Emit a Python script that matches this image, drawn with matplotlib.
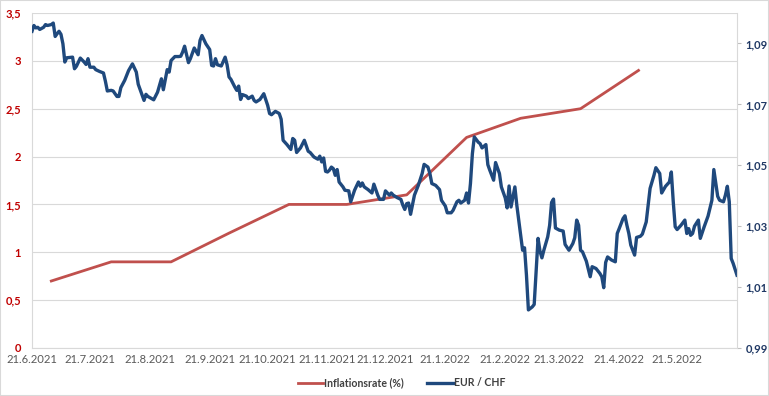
import pandas as pd
import matplotlib
matplotlib.use('Agg')
import matplotlib.pyplot as plt
from matplotlib.lines import Line2D
from matplotlib.patches import Rectangle

plt.rcParams['font.family'] = ['Lato', 'DejaVu Sans']

#%% Data
start = pd.Timestamp('2021-06-21')

# Inflationsrate (%), monthly
infl_dates = ['2021-07-01', '2021-08-01', '2021-09-01', '2021-10-01', '2021-11-01', '2021-12-01',
              '2022-01-01', '2022-02-01', '2022-03-01', '2022-04-01', '2022-05-01']
infl_values = [0.7, 0.9, 0.9, 1.2, 1.5, 1.5, 1.6, 2.2, 2.4, 2.5, 2.9]

# EUR / CHF, days after 21.6.2021
fx_days = [0, 1, 2, 3, 4, 6, 7, 8, 10, 11, 12, 13, 14, 15, 16, 17, 18, 21, 22, 23,
           25, 27, 28, 29, 30, 32, 33, 35, 37, 38, 39, 41, 42, 44, 45, 46, 48, 50, 52, 54,
           55, 57, 58, 59, 60, 63, 65, 67, 68, 70, 71, 72, 74, 76,
           77, 78, 79, 81, 82, 84, 86, 87, 88, 90, 92, 93, 94, 95, 96, 98, 100, 101, 102, 103,
           105, 106, 107, 108, 109, 111, 112, 114, 115, 116, 118, 120, 122, 123, 124, 126, 128, 129, 130, 132,
           134, 135, 136, 137, 139, 141, 143, 144, 146, 148, 149, 150, 151, 152, 153, 154,
           155, 156, 157, 158, 159, 161, 162, 164, 165, 167, 169, 170, 171, 172, 174, 176, 177, 179, 180, 182,
           183, 185, 186, 187, 189, 191, 192, 193, 194, 195, 196, 198, 200, 202, 203, 205, 206, 207, 209, 211,
           212, 214, 215, 217, 218, 220, 221, 222, 224, 225, 226, 227, 228, 229, 231,
           232, 233, 235, 236, 237, 239, 240, 242, 243, 245, 246, 247, 248, 250, 251, 252, 253, 254, 255, 256,
           257, 259, 260, 262, 263, 264, 265, 267, 268, 269, 270, 271, 273, 275, 276, 278, 280, 281, 282, 283,
           284, 285, 287, 288, 289, 290, 292, 294, 295, 296, 297, 298, 300, 302, 303, 304, 306, 307,
           308, 309, 310, 312, 313, 315, 316, 318, 319, 320, 322, 323, 325, 326, 328, 330, 331, 332, 333, 334,
           336, 338, 339, 340, 341, 342, 343, 345, 346, 348, 350, 352, 353, 355, 356, 358, 359, 360, 361, 362,
           363, 365]
fx_rates = [1.0940, 1.0959, 1.0951, 1.0953, 1.0946, 1.0953, 1.0962, 1.0959, 1.0962, 1.0967,
            1.0923, 1.0932, 1.0940, 1.0930, 1.0899, 1.0839, 1.0853, 1.0855, 1.0817, 1.0825,
            1.0852, 1.0839, 1.0831, 1.0850, 1.0822, 1.0822, 1.0814, 1.0808, 1.0803, 1.0776,
            1.0744, 1.0746, 1.0744, 1.0726, 1.0726, 1.0755, 1.0779, 1.0811, 1.0833, 1.0806,
            1.0766, 1.0730, 1.0713, 1.0733, 1.0726, 1.0715, 1.0740, 1.0784, 1.0748, 1.0814,
            1.0806, 1.0844, 1.0857, 1.0857,
            1.0858, 1.0872, 1.0891, 1.0837, 1.0850, 1.0885, 1.0863, 1.0910, 1.0926, 1.0899,
            1.0880, 1.0828, 1.0826, 1.0850, 1.0830, 1.0826, 1.0855, 1.0830, 1.0790, 1.0782,
            1.0757, 1.0746, 1.0760, 1.0716, 1.0732, 1.0727, 1.0719, 1.0727, 1.0713, 1.0708,
            1.0716, 1.0735, 1.0697, 1.0670, 1.0666, 1.0677, 1.0670, 1.0651, 1.0582, 1.0568,
            1.0552, 1.0588, 1.0582, 1.0542, 1.0557, 1.0582, 1.0546, 1.0542, 1.0527, 1.0520,
            1.0530, 1.0511, 1.0524, 1.0480, 1.0478, 1.0484,
            1.0494, 1.0489, 1.0467, 1.0486, 1.0445, 1.0429, 1.0418, 1.0416, 1.0380, 1.0418,
            1.0445, 1.0431, 1.0442, 1.0429, 1.0420, 1.0409, 1.0438, 1.0402, 1.0388, 1.0388,
            1.0416, 1.0402, 1.0409, 1.0402, 1.0394, 1.0388, 1.0369, 1.0355, 1.0374, 1.0376,
            1.0339, 1.0402, 1.0434, 1.0473, 1.0503, 1.0494, 1.0473, 1.0440, 1.0434, 1.0420,
            1.0385, 1.0366, 1.0344, 1.0344, 1.0352, 1.0380, 1.0385, 1.0376, 1.0385, 1.0409,
            1.0376, 1.0440, 1.0538, 1.0593, 1.0576,
            1.0571, 1.0557, 1.0568, 1.0502, 1.0484, 1.0451, 1.0509, 1.0473, 1.0429, 1.0393,
            1.0360, 1.0432, 1.0363, 1.0429, 1.0369, 1.0320, 1.0270, 1.0221, 1.0229, 1.0139,
            1.0025, 1.0035, 1.0043, 1.0260, 1.0218, 1.0196, 1.0221, 1.0265, 1.0303, 1.0378,
            1.0389, 1.0294, 1.0287, 1.0284, 1.0240, 1.0221, 1.0243, 1.0262, 1.0320, 1.0303,
            1.0221, 1.0216, 1.0185, 1.0159, 1.0134, 1.0167, 1.0161, 1.0145, 1.0134, 1.0098,
            1.0181, 1.0199, 1.0189, 1.0183, 1.0276, 1.0292, 1.0325, 1.0334,
            1.0303, 1.0276, 1.0238, 1.0205, 1.0263, 1.0267, 1.0274, 1.0314, 1.0369, 1.0424,
            1.0467, 1.0492, 1.0473, 1.0409, 1.0431, 1.0445, 1.0478, 1.0380, 1.0298, 1.0289,
            1.0303, 1.0320, 1.0276, 1.0292, 1.0270, 1.0276, 1.0300, 1.0320, 1.0260, 1.0298,
            1.0333, 1.0385, 1.0486, 1.0398, 1.0385, 1.0380, 1.0402, 1.0431, 1.0380, 1.0194,
            1.0178, 1.0139]

x_labels = ['21.6.2021', '21.7.2021', '21.8.2021', '21.9.2021', '21.10.2021', '21.11.2021',
            '21.12.2021', '21.1.2022', '21.2.2022', '21.3.2022', '21.4.2022', '21.5.2022']
left_ticks = [0, 0.5, 1, 1.5, 2, 2.5, 3, 3.5]
right_ticks = [0.99, 1.01, 1.03, 1.05, 1.07, 1.09]

red = '#C0504D'
blue = '#1F497D'
grid = '#D9D9D9'

#%% Plot
fx_dates = start + pd.to_timedelta(fx_days, unit='D')
tick_dates = pd.date_range(start, periods=len(x_labels), freq=pd.DateOffset(months=1))

fig = plt.figure(figsize=(7.69, 3.96), dpi=100)
ax = fig.add_axes([32/769, 1 - 348/396, 705/769, 335/396])
ax2 = ax.twinx()

ax.plot(pd.to_datetime(infl_dates), infl_values, color=red, lw=2.0)
ax2.plot(fx_dates, fx_rates, color=blue, lw=2.4, solid_joinstyle='round')

ax.set_xlim(start, start + pd.Timedelta(days=365))
ax.set_ylim(0, 3.5)
ax2.set_ylim(0.99, 1.10)

ax.set_xticks(tick_dates)
ax.set_xticklabels(x_labels)
ax.set_yticks(left_ticks)
ax.set_yticklabels([('%g' % v).replace('.', ',') for v in left_ticks],
                   fontweight='bold')
ax2.set_yticks(right_ticks)
ax2.set_yticklabels([('%.2f' % v).replace('.', ',') for v in right_ticks],
                    fontweight='bold')

ax.grid(axis='y', color=grid, lw=0.8)
ax.set_axisbelow(True)
ax.tick_params(axis='x', length=0, pad=4, labelcolor='#595959', labelsize=8.1)
ax.tick_params(axis='y', length=0, pad=8, labelcolor='#C00000', labelsize=8)
ax2.tick_params(axis='y', length=3, color='#BFBFBF', pad=3, labelcolor='#1F3864', labelsize=8)

for s in ['top', 'right']:
    ax.spines[s].set_visible(False)
for s in ['top', 'left', 'bottom']:
    ax2.spines[s].set_visible(False)
ax.spines['left'].set_color(grid)
ax.spines['bottom'].set_color(grid)
ax2.spines['right'].set_color(grid)

handles = [Line2D([], [], color=red, lw=2.0), Line2D([], [], color=blue, lw=2.4)]
leg = fig.legend(handles, ['Inflationsrate (%)', 'EUR / CHF'], loc='center',
                 bbox_to_anchor=(0.522, 0.033), ncol=2, frameon=False,
                 handlelength=2.4, handletextpad=0.1, columnspacing=2.2,
                 prop={'size': 7.6, 'weight': 'bold'})
for t in leg.get_texts():
    t.set_color('#404040')

fig.patches.append(Rectangle((0, 0), 1, 1, transform=fig.transFigure,
                             fill=False, edgecolor=grid, lw=1.5))

fig.savefig('out.png', dpi=100)
